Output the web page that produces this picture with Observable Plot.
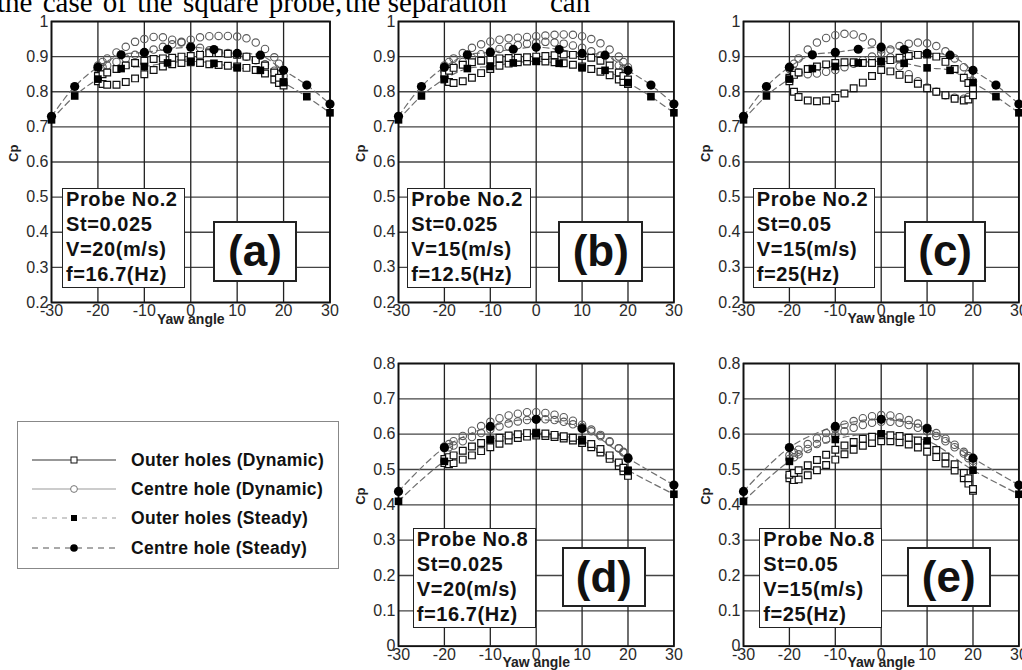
<!DOCTYPE html>
<html><head><meta charset="utf-8">
<script src="https://cdn.jsdelivr.net/npm/d3@7"></script>
<script src="https://cdn.jsdelivr.net/npm/@observablehq/plot@0.6"></script>
<style>
html,body{margin:0;padding:0;background:#fff;}
#root{position:relative;width:1022px;height:670px;overflow:hidden;font-family:"Liberation Sans",Arial,Helvetica,sans-serif;}
.info{position:absolute;box-sizing:border-box;border:1.5px solid #222;background:#fff;font-weight:bold;font-size:20px;line-height:25px;padding:0 0 0 3px;letter-spacing:0.6px;color:#111;white-space:nowrap;}
.info div{position:relative;top:-2px;}
.tag{position:absolute;box-sizing:border-box;border:2px solid #222;background:#fff;font-weight:bold;font-size:44px;display:flex;align-items:center;justify-content:center;color:#111;}
.legend{position:absolute;box-sizing:border-box;border:1px solid #888;background:#fff;}
.lrow{position:absolute;left:0;height:20px;width:100%;}
.lrow svg{position:absolute;left:14px;top:3px;}
.lrow span{position:absolute;left:113px;top:0;font-weight:bold;font-size:17.5px;line-height:20px;letter-spacing:0.3px;color:#111;white-space:nowrap;}
</style>
</head><body>
<div id="root"></div>
<script>
// ---- data ----
const xTicks = [-30, -20, -10, 0, 10, 20, 30];
const yTicksHigh = [0.2, 0.3, 0.4, 0.5, 0.6, 0.7, 0.8, 0.9, 1];
const yTicksLow = [0, 0.1, 0.2, 0.3, 0.4, 0.5, 0.6, 0.7, 0.8];

// yaw angles of the dynamic (oscillating) samples, used for both loop branches
const dynX = [-20, -19, -18, -16, -14, -12, -10, -8, -6, -4, -2, 0, 2, 4, 6, 8, 10, 12, 14, 16, 18, 19, 20];

// steady measurements
const steadyX2 = [-30, -25, -20, -15, -10, -5, 0, 5, 10, 15, 20, 25, 30];
const steadyOuter2 = [0.720, 0.788, 0.836, 0.866, 0.872, 0.882, 0.887, 0.881, 0.868, 0.861, 0.826, 0.786, 0.740];
const steadyCentre2 = [0.730, 0.815, 0.870, 0.905, 0.912, 0.921, 0.927, 0.920, 0.909, 0.904, 0.861, 0.819, 0.765];
const steadyX8 = [-30, -20, -10, 0, 10, 20, 30];
const steadyOuter8 = [0.410, 0.523, 0.585, 0.601, 0.581, 0.498, 0.430];
const steadyCentre8 = [0.438, 0.562, 0.622, 0.642, 0.616, 0.532, 0.456];

// (a)
const aOuterLow = [0.830,0.822,0.820,0.820,0.828,0.838,0.850,0.862,0.872,0.878,0.882,0.884,0.882,0.878,0.876,0.874,0.872,0.868,0.862,0.852,0.835,0.825,0.818];
const aOuterHigh = [0.845,0.850,0.855,0.865,0.875,0.882,0.888,0.893,0.895,0.897,0.900,0.902,0.905,0.910,0.910,0.908,0.905,0.900,0.890,0.875,0.855,0.840,0.828];
const aCentreL = [0.875,0.885,0.895,0.912,0.928,0.942,0.950,0.956,0.955,0.948,0.940,0.930,0.925,0.918,0.912,0.910,0.906,0.900,0.890,0.878,0.860,0.850,0.845];
const aCentreR = [0.865,0.870,0.875,0.885,0.895,0.905,0.912,0.920,0.928,0.935,0.942,0.948,0.955,0.958,0.959,0.959,0.957,0.952,0.940,0.922,0.898,0.880,0.862];
// (b)
const bOuterLow = [0.835,0.828,0.825,0.830,0.840,0.853,0.865,0.874,0.880,0.884,0.886,0.887,0.886,0.884,0.881,0.877,0.872,0.865,0.857,0.847,0.835,0.828,0.822];
const bOuterHigh = [0.850,0.860,0.868,0.877,0.884,0.888,0.892,0.895,0.896,0.897,0.898,0.900,0.902,0.904,0.906,0.905,0.902,0.897,0.888,0.875,0.855,0.845,0.835];
const bCentreLow = [0.860,0.865,0.872,0.885,0.897,0.907,0.915,0.922,0.928,0.933,0.937,0.940,0.942,0.940,0.937,0.932,0.925,0.915,0.903,0.890,0.875,0.866,0.860];
const bCentreHigh = [0.875,0.885,0.895,0.910,0.925,0.935,0.943,0.948,0.952,0.954,0.956,0.958,0.960,0.962,0.963,0.962,0.958,0.950,0.938,0.920,0.900,0.885,0.870];
// (c)
const cOuterLow = [0.830,0.800,0.785,0.775,0.773,0.775,0.782,0.795,0.810,0.826,0.845,0.862,0.858,0.848,0.836,0.823,0.810,0.800,0.790,0.780,0.775,0.778,0.790];
const cOuterHigh = [0.840,0.848,0.855,0.865,0.872,0.878,0.882,0.884,0.884,0.882,0.882,0.885,0.890,0.897,0.902,0.905,0.906,0.900,0.885,0.865,0.840,0.825,0.810];
const cCentreA = [0.865,0.880,0.895,0.920,0.940,0.953,0.961,0.965,0.963,0.955,0.940,0.920,0.898,0.872,0.850,0.830,0.812,0.800,0.790,0.783,0.780,0.785,0.800];
const cCentreB = [0.870,0.860,0.855,0.850,0.852,0.857,0.862,0.870,0.880,0.890,0.900,0.910,0.920,0.930,0.937,0.940,0.938,0.930,0.915,0.895,0.870,0.850,0.830];
// (d)
const dOuterLow = [0.518,0.515,0.518,0.528,0.540,0.552,0.563,0.573,0.582,0.589,0.593,0.596,0.595,0.592,0.588,0.582,0.575,0.563,0.548,0.530,0.510,0.495,0.482];
const dOuterHigh = [0.530,0.535,0.540,0.553,0.565,0.575,0.584,0.590,0.596,0.600,0.603,0.604,0.602,0.598,0.594,0.590,0.584,0.572,0.558,0.540,0.520,0.505,0.495];
const dCentreLow = [0.560,0.563,0.568,0.580,0.592,0.603,0.613,0.622,0.630,0.636,0.640,0.642,0.642,0.640,0.635,0.628,0.620,0.608,0.594,0.578,0.560,0.550,0.530];
const dCentreHigh = [0.565,0.572,0.580,0.595,0.610,0.623,0.635,0.645,0.653,0.658,0.662,0.662,0.660,0.655,0.648,0.638,0.627,0.613,0.598,0.580,0.560,0.548,0.535];
// (e)
const eOuterLow = [0.475,0.470,0.472,0.484,0.498,0.513,0.528,0.543,0.556,0.567,0.575,0.580,0.580,0.577,0.571,0.562,0.550,0.535,0.517,0.497,0.475,0.460,0.440];
const eOuterHigh = [0.485,0.490,0.498,0.512,0.527,0.542,0.556,0.568,0.578,0.587,0.593,0.597,0.597,0.595,0.590,0.582,0.570,0.555,0.537,0.515,0.490,0.475,0.445];
const eCentreLow = [0.530,0.535,0.543,0.558,0.572,0.585,0.597,0.608,0.618,0.626,0.632,0.635,0.635,0.632,0.626,0.618,0.608,0.595,0.580,0.563,0.545,0.532,0.518];
const eCentreHigh = [0.540,0.548,0.556,0.572,0.588,0.603,0.615,0.627,0.637,0.645,0.651,0.654,0.653,0.648,0.640,0.630,0.618,0.603,0.587,0.570,0.550,0.538,0.525];

// annotation texts
const infoA = ["Probe No.2", "St=0.025", "V=20(m/s)", "f=16.7(Hz)"];
const infoB = ["Probe No.2", "St=0.025", "V=15(m/s)", "f=12.5(Hz)"];
const infoC = ["Probe No.2", "St=0.05", "V=15(m/s)", "f=25(Hz)"];
const infoD = ["Probe No.8", "St=0.025", "V=20(m/s)", "f=16.7(Hz)"];
const infoE = ["Probe No.8", "St=0.05", "V=15(m/s)", "f=25(Hz)"];
const legendLabels = ["Outer holes (Dynamic)", "Centre hole (Dynamic)", "Outer holes (Steady)", "Centre hole (Steady)"];
const yLabel = "Cp";
const xLabel = "Yaw angle";
const runningText = ["the case of the square probe,", "the separation", "can"];

// ---- layout ----
const panels = [
  {tag: "(a)", info: infoA, frame: [51, 20.7, 278.5, 281], yTicks: yTicksHigh, sx: steadyX2, so: steadyOuter2, sc: steadyCentre2,
   outer: [aOuterLow, aOuterHigh], centre: [aCentreL, aCentreR], showX: true, infoBox: [62, 188, 123, 99.6], tagBox: [213.3, 221, 83.4, 60.7]},
  {tag: "(b)", info: infoB, frame: [398, 20.7, 275.4, 281], yTicks: yTicksHigh, sx: steadyX2, so: steadyOuter2, sc: steadyCentre2,
   outer: [bOuterLow, bOuterHigh], centre: [bCentreLow, bCentreHigh], showX: false, infoBox: [407.3, 188, 123.7, 99.6], tagBox: [558.3, 221, 85, 60.7]},
  {tag: "(c)", info: infoC, frame: [742.7, 20.7, 275.4, 281], yTicks: yTicksHigh, sx: steadyX2, so: steadyOuter2, sc: steadyCentre2,
   outer: [cOuterLow, cOuterHigh], centre: [cCentreA, cCentreB], showX: true, infoBox: [752.7, 188, 122.3, 99.6], tagBox: [904.3, 221, 81.7, 60.7]},
  {tag: "(d)", info: infoD, frame: [398, 363.3, 275.4, 282.7], yTicks: yTicksLow, sx: steadyX8, so: steadyOuter8, sc: steadyCentre8,
   outer: [dOuterLow, dOuterHigh], centre: [dCentreLow, dCentreHigh], showX: true, infoBox: [412.7, 527.7, 123.3, 100.6], tagBox: [561.7, 546.7, 84.3, 60]},
  {tag: "(e)", info: infoE, frame: [742.7, 363.3, 275.4, 282.7], yTicks: yTicksLow, sx: steadyX8, so: steadyOuter8, sc: steadyCentre8,
   outer: [eOuterLow, eOuterHigh], centre: [eCentreLow, eCentreHigh], showX: true, infoBox: [759.3, 527.7, 122.7, 100.6], tagBox: [906.7, 546.7, 84, 60]}
];

const root = document.getElementById("root");
const FONT = "'Liberation Sans', Arial, Helvetica, sans-serif";
const mL = 50, mR = 14, mT = 12, mB = 30;
const pts = (xs, ys) => xs.map((x, i) => ({x, y: ys[i]}));

// fragment of running text above the figure
const topText = document.createElementNS("http://www.w3.org/2000/svg", "svg");
topText.setAttribute("width", 1022); topText.setAttribute("height", 20);
topText.style.position = "absolute"; topText.style.left = "0"; topText.style.top = "0";
const serif = "'Liberation Serif','Times New Roman',serif";
topText.innerHTML =
  `<text x="-3" y="12.3" font-family="${serif}" font-size="29" word-spacing="3">${runningText[0]}</text>` +
  `<text x="345" y="12.3" font-family="${serif}" font-size="29">${runningText[1]}</text>` +
  `<text x="550" y="12.3" font-family="${serif}" font-size="29">${runningText[2]}</text>`;
root.appendChild(topText);

for (const p of panels) {
  const [fx, fy, fw, fh] = p.frame;
  const outerPts = p.outer.flatMap(arr => pts(dynX, arr));
  const centrePts = p.centre.flatMap(arr => pts(dynX, arr));
  const sO = pts(p.sx, p.so), sC = pts(p.sx, p.sc);
  const yt = p.yTicks;
  const svg = Plot.plot({
    width: mL + fw + mR, height: mT + fh + mB,
    marginLeft: mL, marginRight: mR, marginTop: mT, marginBottom: mB,
    x: {domain: [-30, 30]},
    y: {domain: [yt[0], yt[yt.length - 1]]},
    style: {fontFamily: FONT, fontSize: "16px", color: "#2a2a2a", background: "transparent", overflow: "visible"},
    marks: [
      Plot.gridY(yt, {stroke: "#444", strokeOpacity: 1, strokeWidth: 1.3}),
      Plot.gridX(xTicks, {stroke: "#222", strokeOpacity: 1, strokeWidth: 1.3}),
      Plot.frame({stroke: "#111", strokeWidth: 1.8}),
      ...(p.showX ? [Plot.text([xLabel], {frameAnchor: "bottom", dy: 21, fontSize: 14, fontWeight: "bold", fill: "#222"})] : []),
      Plot.axisX(xTicks, {tickSize: 0, tickPadding: 2, label: null, fontSize: 16, tickFormat: d => String(d)}),
      Plot.axisY(yt, {tickSize: 0, tickPadding: 3, label: null, fontSize: 16, tickFormat: d => String(Math.round(d * 10) / 10)}),
      Plot.text([yLabel], {frameAnchor: "left", dx: -38, rotate: -90, fontSize: 13, fontWeight: "bold", fill: "#222"}),
      Plot.line(sC, {x: "x", y: "y", stroke: "#6f6f6f", strokeWidth: 1.2, strokeDasharray: "6,4", curve: "catmull-rom"}),
      Plot.line(sO, {x: "x", y: "y", stroke: "#6f6f6f", strokeWidth: 1.2, strokeDasharray: "6,4", curve: "catmull-rom"}),
      Plot.dot(centrePts, {x: "x", y: "y", r: 3.7, stroke: "#5a5a5a", fill: "none", strokeWidth: 1.1}),
      Plot.dot(outerPts, {x: "x", y: "y", symbol: "square", r: 3.8, stroke: "#111", fill: "white", strokeWidth: 1.2}),
      Plot.dot(sO, {x: "x", y: "y", symbol: "square", r: 4.3, fill: "#000", stroke: "none"}),
      Plot.dot(sC, {x: "x", y: "y", r: 4.6, fill: "#000", stroke: "none"})
    ]
  });
  svg.style.position = "absolute";
  svg.style.maxWidth = "none";
  svg.style.left = (fx - mL) + "px";
  svg.style.top = (fy - mT) + "px";
  root.appendChild(svg);

  const ib = document.createElement("div");
  ib.className = "info";
  const [ix, iy, iw, ih] = p.infoBox;
  Object.assign(ib.style, {left: ix + "px", top: iy + "px", width: iw + "px", height: ih + "px"});
  ib.innerHTML = p.info.map(t => `<div>${t}</div>`).join("");
  root.appendChild(ib);

  const tg = document.createElement("div");
  tg.className = "tag";
  const [tx, ty, tw, th] = p.tagBox;
  Object.assign(tg.style, {left: tx + "px", top: ty + "px", width: tw + "px", height: th + "px"});
  tg.textContent = p.tag;
  root.appendChild(tg);
}

// legend
const lg = document.createElement("div");
lg.className = "legend";
Object.assign(lg.style, {left: "17px", top: "420.5px", width: "321.5px", height: "148px"});
const rowTops = [28.5, 57.8, 86.8, 116.2];
const swatches = [
  `<line x1="0" x2="84" y1="7" y2="7" stroke="#333" stroke-width="1.2"/><rect x="39" y="4" width="6" height="6" fill="#fff" stroke="#111"/>`,
  `<line x1="0" x2="84" y1="7" y2="7" stroke="#999" stroke-width="1.2"/><circle cx="42" cy="7" r="3.4" fill="#fff" stroke="#777"/>`,
  `<line x1="0" x2="84" y1="7" y2="7" stroke="#999" stroke-width="1.2" stroke-dasharray="5,5"/><rect x="39" y="4" width="6" height="6" fill="#000"/>`,
  `<line x1="0" x2="84" y1="7" y2="7" stroke="#555" stroke-width="1.2" stroke-dasharray="6,5"/><circle cx="42" cy="7" r="3.8" fill="#000"/>`
];
legendLabels.forEach((lab, i) => {
  const r = document.createElement("div");
  r.className = "lrow";
  r.style.top = rowTops[i] + "px";
  r.innerHTML = `<svg width="88" height="14">${swatches[i]}</svg><span>${lab}</span>`;
  lg.appendChild(r);
});
root.appendChild(lg);
</script>
</body></html>
